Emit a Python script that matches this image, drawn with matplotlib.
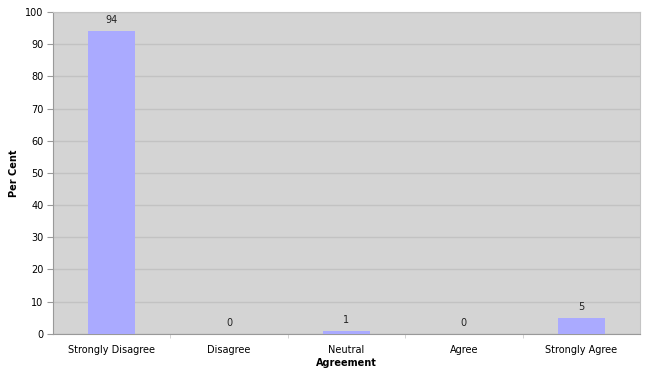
import numpy as np
import matplotlib.pyplot as plt

# Data
categories = ['Strongly Disagree', 'Disagree', 'Neutral', 'Agree', 'Strongly Agree']
per_cent = [94, 0, 1, 0, 5]

fig = plt.figure(figsize=(6.47, 3.73), dpi=100)
ax = fig.add_axes([0.082, 0.105, 0.907, 0.863])
ax.set_facecolor('#d4d4d4')

x = np.arange(len(categories))
bars = ax.bar(x, per_cent, width=0.4, color='#aaaaff', zorder=3)
for xi, v in zip(x, per_cent):
    ax.text(xi, v + 1.8, str(v), ha='center', va='bottom', fontsize=7, color='#222222')

ax.set_xlim(-0.5, len(categories) - 0.5)
ax.set_ylim(0, 100)
ax.set_yticks(np.arange(0, 101, 10))
ax.yaxis.grid(True, color='#c2c2c2', linewidth=1, zorder=0)
ax.set_xticks(x)
ax.set_xticklabels(categories)
ax.set_xticks(np.arange(0.5, len(categories) - 0.5, 1), minor=True)
ax.tick_params(axis='x', which='major', length=0, pad=8, labelsize=7)
ax.tick_params(axis='x', which='minor', length=3, color='#cccccc')
ax.tick_params(axis='y', length=4, color='#999999', labelsize=7, pad=3)

for s in ['top', 'right']:
    ax.spines[s].set_color('#c4c4c4')
ax.spines['left'].set_color('#999999')
ax.spines['bottom'].set_color('#999999')

ax.set_xlabel('Agreement', fontsize=7, fontweight='bold', labelpad=2)
ax.set_ylabel('Per Cent', fontsize=7, fontweight='bold', labelpad=4)

fig.savefig('out.png', dpi=100)
